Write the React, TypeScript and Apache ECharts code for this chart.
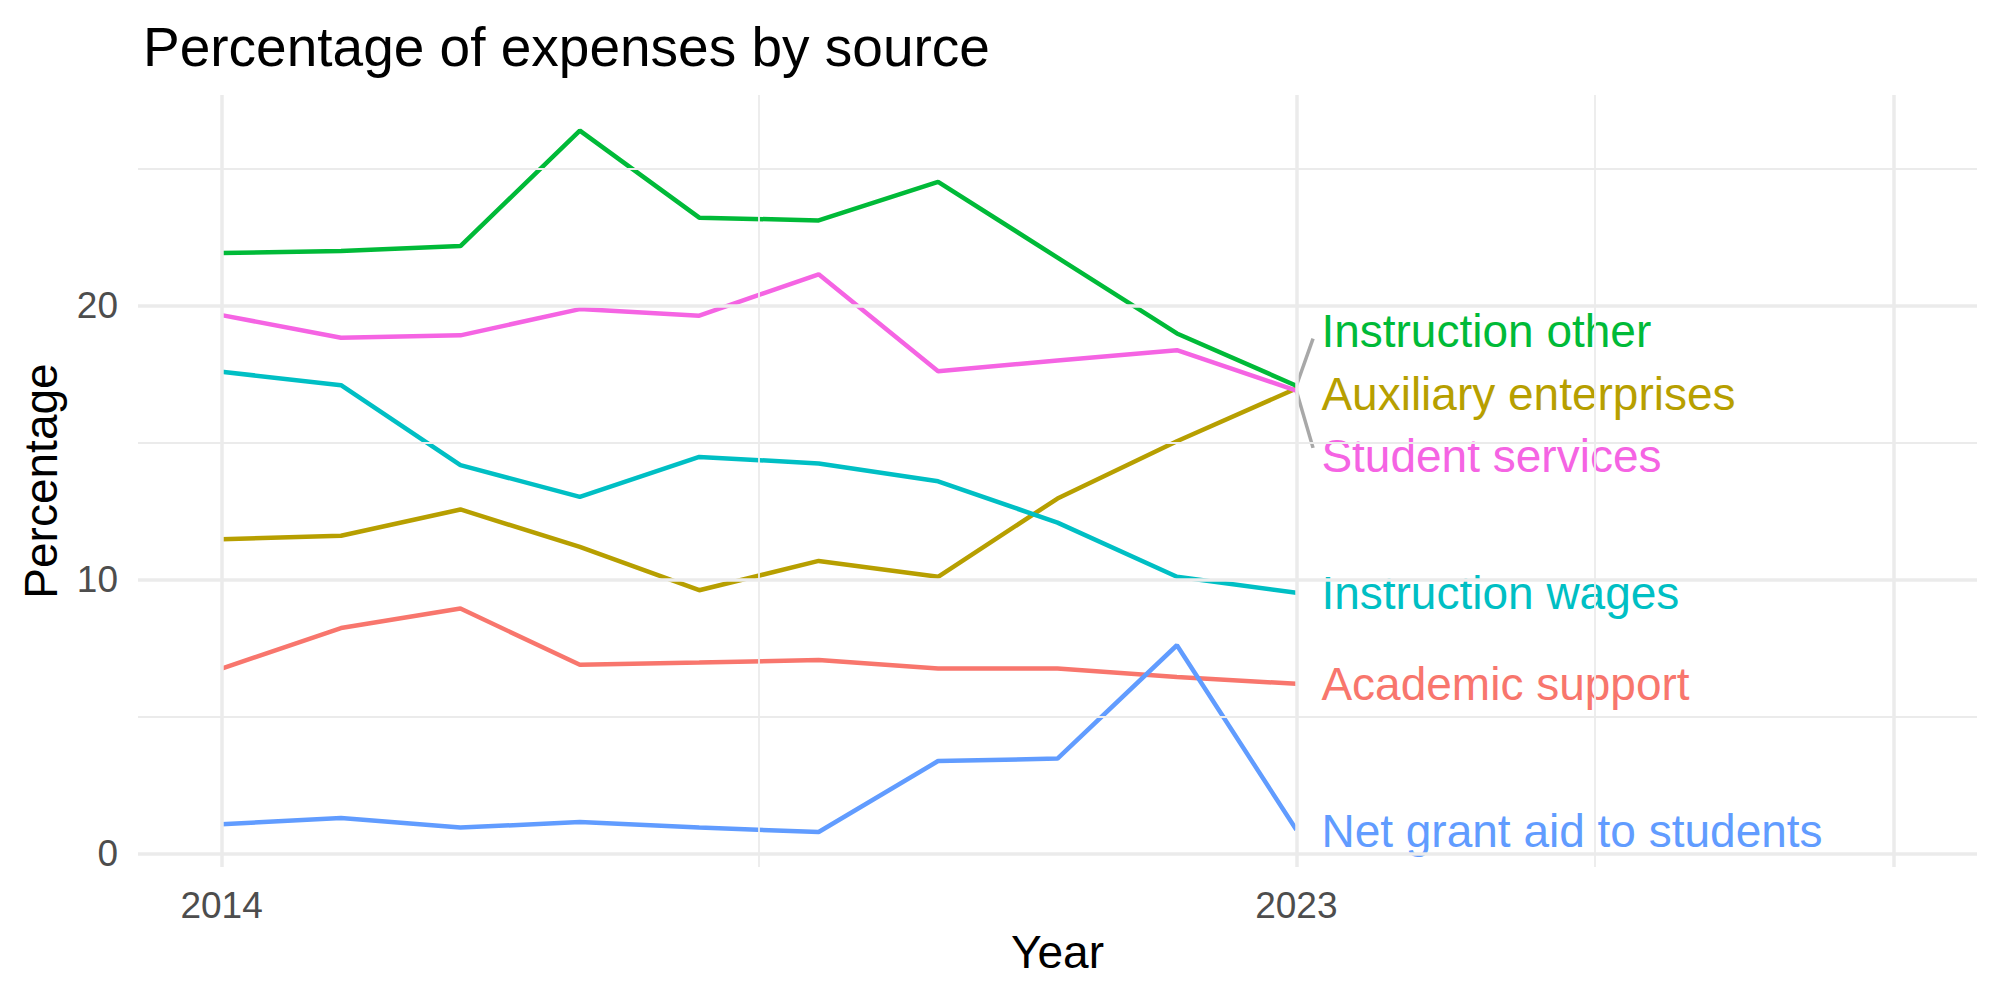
import React, { useEffect, useRef } from "react";
import * as echarts from "echarts";

const FONT = "Liberation Sans, Arial, Helvetica, sans-serif";

const years = [2014, 2015, 2016, 2017, 2018, 2019, 2020, 2021, 2022, 2023];

const seriesNames = [
  "Academic support",
  "Auxiliary enterprises",
  "Instruction other",
  "Instruction wages",
  "Net grant aid to students",
  "Student services",
];
const seriesColors = ["#F8766D", "#B79F00", "#00BA38", "#00BFC4", "#619CFF", "#F564E3"];

const academicSupport = [6.75, 8.23, 8.94, 6.89, 6.97, 7.06, 6.75, 6.75, 6.44, 6.19];
const auxiliaryEnterprises = [11.47, 11.6, 12.56, 11.19, 9.61, 10.68, 10.1, 12.96, 15.05, 16.98];
const instructionOther = [21.93, 22.0, 22.18, 26.4, 23.22, 23.12, 24.53, 21.76, 18.99, 17.08];
const instructionWages = [17.59, 17.1, 14.18, 13.02, 14.48, 14.24, 13.59, 12.08, 10.1, 9.52];
const netGrantAid = [1.06, 1.29, 0.94, 1.14, 0.94, 0.78, 3.37, 3.46, 7.6, 0.86];
const studentServices = [19.66, 18.83, 18.92, 19.88, 19.64, 21.15, 17.61, 18.0, 18.38, 16.9];

const allValues = [
  academicSupport,
  auxiliaryEnterprises,
  instructionOther,
  instructionWages,
  netGrantAid,
  studentServices,
];

// repelled label positions (x, y in data units)
const labelX = 2023.21;
const labelY = [6.17, 16.79, 19.08, 9.51, 0.83, 14.52];

// repel segments: series index -> segment end point
const segmentSeries = [2, 5];
const segmentEnds = [
  [2023.14, 18.8],
  [2023.14, 14.81],
];

const xTickLabels = [2014, 2023];
const yTickLabels = [0, 10, 20];
const xMajorGrid = [2014, 2023, 2028];
const xMinorGrid = [2018.5, 2025.5];
const yMajorGrid = [0, 10, 20];
const yMinorGrid = [5, 15, 25];

export default function App() {
  const ref = useRef<HTMLDivElement>(null);

  useEffect(() => {
    document.body.style.margin = "0";
    const chart = echarts.init(ref.current!, null, { renderer: "svg" });

    const gridColor = "#EBEBEB";
    const majorW = 3.5;
    const minorW = 1.8;
    const markData: any[] = [
      ...yMinorGrid.map((v) => ({ yAxis: v, lineStyle: { width: minorW, color: gridColor, type: "solid" } })),
      ...xMinorGrid.map((v) => ({ xAxis: v, lineStyle: { width: minorW, color: gridColor, type: "solid" } })),
      ...yMajorGrid.map((v) => ({ yAxis: v, lineStyle: { width: majorW, color: gridColor, type: "solid" } })),
      ...xMajorGrid.map((v) => ({ xAxis: v, lineStyle: { width: majorW, color: gridColor, type: "solid" } })),
    ];

    const lineSeries = seriesNames.map((name, i) => ({
      type: "line",
      name,
      data: years.map((y, j) => [y, allValues[i][j]]),
      showSymbol: false,
      symbol: "none",
      lineStyle: { color: seriesColors[i], width: 4.5, opacity: 1 },
      itemStyle: { color: seriesColors[i] },
      z: 3,
      silent: true,
    }));

    const segSeries = segmentSeries.map((si, k) => ({
      type: "line",
      name: "seg" + k,
      data: [
        [years[years.length - 1], allValues[si][years.length - 1]],
        segmentEnds[k],
      ],
      showSymbol: false,
      symbol: "none",
      lineStyle: { color: "#A8A8A8", width: 3.5 },
      z: 2,
      silent: true,
    }));

    const option: any = {
      animation: false,
      backgroundColor: "#FFFFFF",
      title: {
        text: "Percentage of expenses by source",
        left: 138,
        top: 14,
        textStyle: { fontFamily: FONT, fontSize: 55, fontWeight: "normal", color: "#000000" },
      },
      grid: { left: 138, right: 23, top: 95, bottom: 133, containLabel: false },
      xAxis: {
        type: "value",
        min: 2013.3,
        max: 2028.7,
        axisLine: { show: false },
        axisTick: { show: false },
        splitLine: { show: false },
        axisLabel: {
          customValues: xTickLabels,
          fontFamily: FONT,
          fontSize: 37,
          color: "#4D4D4D",
          margin: 20,
          formatter: (v: number) => String(v),
        },
        name: "Year",
        nameLocation: "middle",
        nameGap: 62,
        nameTextStyle: { fontFamily: FONT, fontSize: 46, color: "#000000" },
      },
      yAxis: {
        type: "value",
        min: -0.5,
        max: 27.7,
        axisLine: { show: false },
        axisTick: { show: false },
        splitLine: { show: false },
        axisLabel: {
          customValues: yTickLabels,
          fontFamily: FONT,
          fontSize: 37,
          color: "#4D4D4D",
          margin: 20,
        },
        name: "Percentage",
        nameLocation: "middle",
        nameGap: 74,
        nameRotate: 90,
        nameTextStyle: { fontFamily: FONT, fontSize: 46, color: "#000000" },
      },
      series: [
        {
          type: "line",
          name: "grid",
          data: [],
          silent: true,
          z: 1,
          markLine: {
            silent: true,
            symbol: ["none", "none"],
            label: { show: false },
            emphasis: { disabled: true },
            animation: false,
            data: markData,
          },
        },
        ...segSeries,
        ...lineSeries,
        {
          type: "scatter",
          name: "labels",
          symbolSize: 0,
          silent: true,
          z: 4,
          itemStyle: { opacity: 1 },
          data: seriesNames.map((n, i) => ({
            name: n,
            value: [labelX, labelY[i]],
            itemStyle: { opacity: 1 },
            label: { color: seriesColors[i], opacity: 1 },
          })),
          label: {
            show: true,
            position: "right",
            distance: 0,
            formatter: "{b}",
            fontFamily: FONT,
            fontSize: 46,
            opacity: 1,
          },
        },
      ],
    };

    chart.setOption(option);
    return () => chart.dispose();
  }, []);

  return <div ref={ref} style={{ width: 2000, height: 1000 }} />;
}
